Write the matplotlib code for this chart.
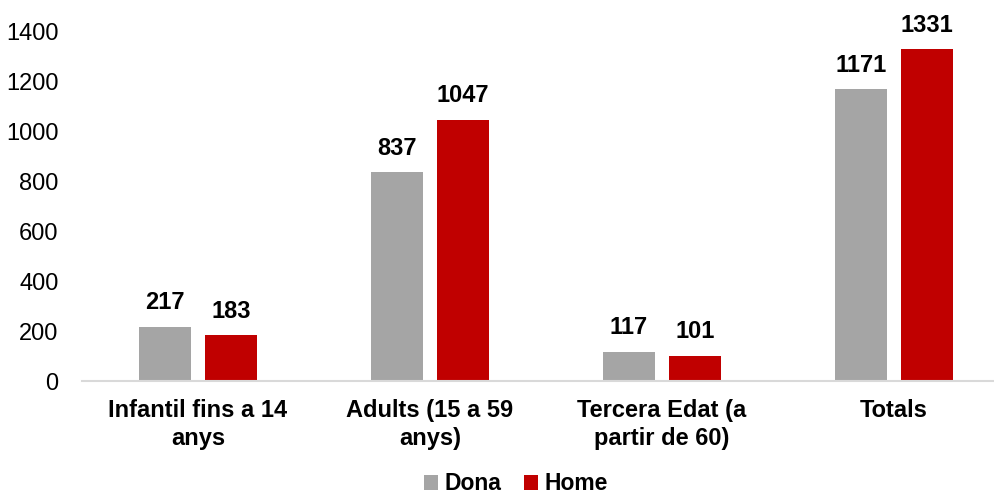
import matplotlib
matplotlib.use("Agg")
import matplotlib.pyplot as plt
import numpy as np

plt.rcParams['font.family'] = ['Liberation Sans', 'DejaVu Sans']

categories = ["Infantil fins a 14\nanys", "Adults (15 a 59\nanys)", "Tercera Edat (a\npartir de 60)", "Totals"]
dona = [217, 837, 117, 1171]
home = [183, 1047, 101, 1331]
series_names = ["Dona", "Home"]
colors = ["#A5A5A5", "#C00000"]

FS = 17

fig = plt.figure(figsize=(9.95, 4.96), dpi=100)
W, H = 995, 496
left, right = 82, 1010
y0_px, y1400_px = 381, 32
ymax = 1430
top_px = y0_px - (y0_px - y1400_px) * ymax / 1400
ax = fig.add_axes([left / W, (H - y0_px) / H, (right - left) / W, (y0_px - top_px) / H])

x = np.arange(len(categories))
bw = 52 / 232
off = 33 / 232
b1 = ax.bar(x - off, dona, bw, color=colors[0], label=series_names[0])
b2 = ax.bar(x + off, home, bw, color=colors[1], label=series_names[1])

for bars, vals in ((b1, dona), (b2, home)):
    for r, v in zip(bars, vals):
        ax.annotate(str(v), (r.get_x() + r.get_width() / 2, v), xytext=(0, 9),
                    textcoords="offset points", ha="center", va="bottom",
                    fontsize=FS, fontweight="bold")

ax.set_xlim(-0.5, 3.5)
ax.set_ylim(0, ymax)
ax.set_yticks(np.arange(0, 1401, 200))
ax.tick_params(axis='y', length=0, labelsize=FS, pad=17)
ax.tick_params(axis='x', length=0, labelsize=FS, pad=13)
ax.set_xticks(x)
ax.set_xticklabels(categories, fontweight="bold", linespacing=1.25)
for s in ("top", "right", "left"):
    ax.spines[s].set_visible(False)
ax.spines["bottom"].set_color("#D9D9D9")
ax.spines["bottom"].set_linewidth(1.5)

fig.legend(handles=[b1, b2], loc="center", bbox_to_anchor=(516 / W, 1 - 484 / H),
           ncol=2, frameon=False, prop={"weight": "bold", "size": 16.5},
           handlelength=0.6, handleheight=0.6, handletextpad=0.3, columnspacing=1.0,
           borderpad=0.2)

fig.savefig("out.png", dpi=100)
